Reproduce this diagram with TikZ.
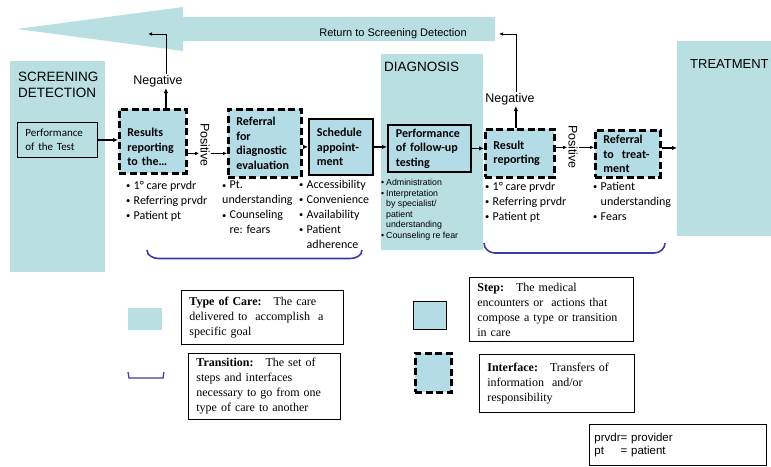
\documentclass[tikz,border=0pt]{standalone}
\usepackage{fontspec}
\setmainfont{Carlito}
\newfontfamily\arialfont{Liberation Sans}
\newfontfamily\timesfont{Liberation Serif}
\usetikzlibrary{positioning,arrows.meta}
\definecolor{careteal}{RGB}{185,223,227}
\definecolor{stepteal}{RGB}{180,220,230}
\definecolor{bracketblue}{RGB}{60,60,165}
\newcommand{\itm}{\makebox[7.5pt][l]{\raisebox{0.8pt}{\fontsize{8.5}{8.5}\selectfont\textbullet}}}
\newcommand{\hang}{\hspace*{7.5pt}}
\newcommand{\sitm}{\makebox[5pt][l]{\textbullet}}
\newcommand{\shang}{\hspace*{5pt}}

\begin{document}
\begin{tikzpicture}[x=1pt, y=-1pt,
	careType/.style={fill=careteal, anchor=north west, inner sep=0pt},
	careTitle/.style={font=\arialfont\fontsize{13.5}{16}\selectfont, align=left, inner sep=0pt},
	stepBox/.style={fill=stepteal, draw=black, line width=1.8pt, anchor=north west, inner xsep=8pt, inner ysep=0pt, align=left, font=\bfseries\fontsize{12}{14.5}\selectfont},
	ifaceBox/.style={stepBox, line width=2.8pt, dash pattern=on 7pt off 3.5pt},
	flow/.style={-{Latex[length=5pt,width=4.5pt]}, line width=1.2pt},
	smallflow/.style={-{Latex[length=4pt,width=3.5pt]}, line width=0.8pt},
	bulletList/.style={anchor=north west, inner sep=0pt, align=left, font=\fontsize{12}{15}\selectfont},
	decision/.style={font=\arialfont\fontsize{12.5}{15}\selectfont, inner sep=1pt},
	bracket/.style={draw=bracketblue, line width=1.6pt},
	legendBox/.style={draw=black, line width=0.8pt, anchor=north west, align=left, inner xsep=8pt, inner ysep=0pt, font=\timesfont\fontsize{12}{15}\selectfont}]
	\useasboundingbox (0,0) rectangle (771,466);

	\fill[careteal] (495,17) -- (183,17) -- (183,7) -- (17,29) -- (183,51) -- (183,41) -- (495,41) -- cycle;
	\node[font=\arialfont\fontsize{11}{13}\selectfont] (retLabel) at (393,34) {Return to Screening Detection};

	\node[careType, minimum width=95, minimum height=211] (screen) at (10,61) {};
	\node[careType, minimum width=102, minimum height=196] (diag) at (381,54) {};
	\node[careType, minimum width=95, minimum height=195] (treat) at (677,41) {};
	\node[careTitle, below right=11pt and 8pt of screen.north west] (screenTitle) {SCREENING\\DETECTION};
	\node[careTitle, below right=8pt and 3pt of diag.north west] (diagTitle) {DIAGNOSIS};
	\node[careTitle, font=\arialfont\fontsize{13}{16}\selectfont, below right=18pt and 13pt of treat.north west] (treatTitle) {TREATMENT};

	\node[stepBox, fill=careteal, line width=0.9pt, font=\fontsize{11}{13.5}\selectfont, text width=64pt, minimum height=35] (perfTest) at (17,122) {Performance\\of the Test};
	\node[ifaceBox, text width=51pt, minimum height=64] (results) at (118,108) {\rule{0pt}{20pt}Results\\reporting\\to the\ldots};
	\node[ifaceBox, text width=57pt, minimum height=68] (refDiag) at (227,108) {Referral\\for\\diagnostic\\evaluation};
	\node[stepBox, text width=48pt, minimum height=56] (schedule) at (308,118) {Schedule\\appoint-\\ment};
	\node[stepBox, text width=67pt, minimum height=47] (followUp) at (387,124) {Performance\\of follow-up\\testing};
	\node[ifaceBox, text width=53pt, minimum height=48] (resultRep) at (484,128) {Result\\reporting\\[6pt]};
	\node[ifaceBox, text width=49pt, minimum height=47] (refTreat) at (594,129) {Referral\\to\ \ treat-\\ment};

	\node[decision, rotate=-90] (posA) at (205,145) {Positive};
	\node[decision, rotate=-90] (posB) at (573,147) {Positive};
	\node[decision] (negA) at (158,81) {Negative};
	\node[decision] (negB) at (510,99) {Negative};

	\node[bulletList] (resBul) at (126,181) {\itm 1° care prvdr\\\itm Referring prvdr\\\itm Patient pt};
	\node[bulletList] (refDiagBul) at (222,181) {\itm Pt.\\understanding\\\itm Counseling\\\hang re: fears};
	\node[bulletList] (schedBul) at (299,180) {\itm Accessibility\\\itm Convenience\\\itm Availability\\\itm Patient\\\hang adherence};
	\node[bulletList, font=\arialfont\fontsize{8.8}{10.5}\selectfont] (followBul) at (381,179) {\sitm Administration\\\sitm Interpretation\\\shang by specialist/\\\shang patient\\\shang understanding\\\sitm Counseling re fear};
	\node[bulletList] (resRepBul) at (485,182) {\itm 1° care prvdr\\\itm Referring prvdr\\\itm Patient pt};
	\node[bulletList] (refTreatBul) at (593,182) {\itm Patient\\\hang understanding\\\itm Fears};

	\draw[flow] (perfTest.east) -- (perfTest.east -| results.west);
	\coordinate (posAin) at ([yshift=-12pt]results.east);
	\draw[smallflow] (posAin) -- (posAin -| posA.south);
	\draw[smallflow] (posAin -| posA.north) -- (posAin -| refDiag.west);
	\draw[flow] (refDiag.east |- schedule.west) -- (schedule.west);
	\draw[flow] (schedule.east) -- (schedule.east -| followUp.west);
	\draw[flow] (followUp.east) -- (followUp.east -| resultRep.west);
	\coordinate (posBin) at ([yshift=6pt]resultRep.east);
	\draw[smallflow] (posBin) -- (posBin -| posB.south);
	\draw[smallflow] (posBin -| posB.north) -- (posBin -| refTreat.west);
	\coordinate (treatIn) at ([yshift=6pt]refTreat.east);
	\draw[flow] (treatIn) -- (treatIn -| treat.west);

	\coordinate (negAfoot) at ([xshift=13pt]results.north);
	\coordinate (negAend) at (148,34);
	\draw[flow] (negAfoot) -- (negAfoot |- negA.south);
	\draw[smallflow] (negAfoot |- negA.north) |- (negAend);
	\coordinate (negBfoot) at ([xshift=-4pt]resultRep.north);
	\coordinate (negBend) at (499,34);
	\draw[flow] (negBfoot) -- (negBfoot |- negB.south);
	\draw[smallflow] (negBfoot |- negB.north) |- (negBend);

	\draw[bracket] (147,250) to[out=-90,in=180] (159,258.5) -- (350,258.5) to[out=0,in=-90] (362,250);
	\draw[bracket] (484,243) to[out=-90,in=180] (495,253) -- (654,253) to[out=0,in=-90] (665,243);

	\node[careType, minimum width=34, minimum height=22] (careLeg) at (128,308) {};
	\node[legendBox, text width=146pt, minimum height=54] (careDef) at (181,290) {\textbf{Type of Care:}\ \ \ The care\\delivered to\ \ accomplish\ \ a\\specific goal};
	\draw[bracket, line width=1.3pt] (128,372) -- (129,378) -- (163,378) -- (164,372);
	\node[legendBox, text width=136pt, minimum height=66] (transDef) at (188,353) {\textbf{Transition:}\ \ \ The set of\\steps and interfaces\\necessary to go from one\\type of care to another};
	\node[stepBox, line width=0.9pt, minimum width=33, minimum height=28, inner sep=0pt] (stepLeg) at (413,301) {};
	\node[legendBox, text width=148pt, minimum height=64] (stepDef) at (469,277) {\textbf{Step:}\ \ \ The medical\\encounters or\ \ actions that\\compose a type or transition\\in care};
	\node[ifaceBox, minimum width=36, minimum height=39, inner sep=0pt] (ifaceLeg) at (414,352) {};
	\node[legendBox, text width=139pt, minimum height=58] (ifaceDef) at (479,354) {\textbf{Interface:}\ \ \ Transfers of\\information\ \ and/or\\responsibility};
	\node[legendBox, inner xsep=5pt, text width=167pt, minimum height=41, font=\arialfont\fontsize{11.5}{13.5}\selectfont] (abbrev) at (589,424) {prvdr= provider\\\leavevmode\rlap{pt}\phantom{prvdr}= patient};
\end{tikzpicture}
\end{document}
